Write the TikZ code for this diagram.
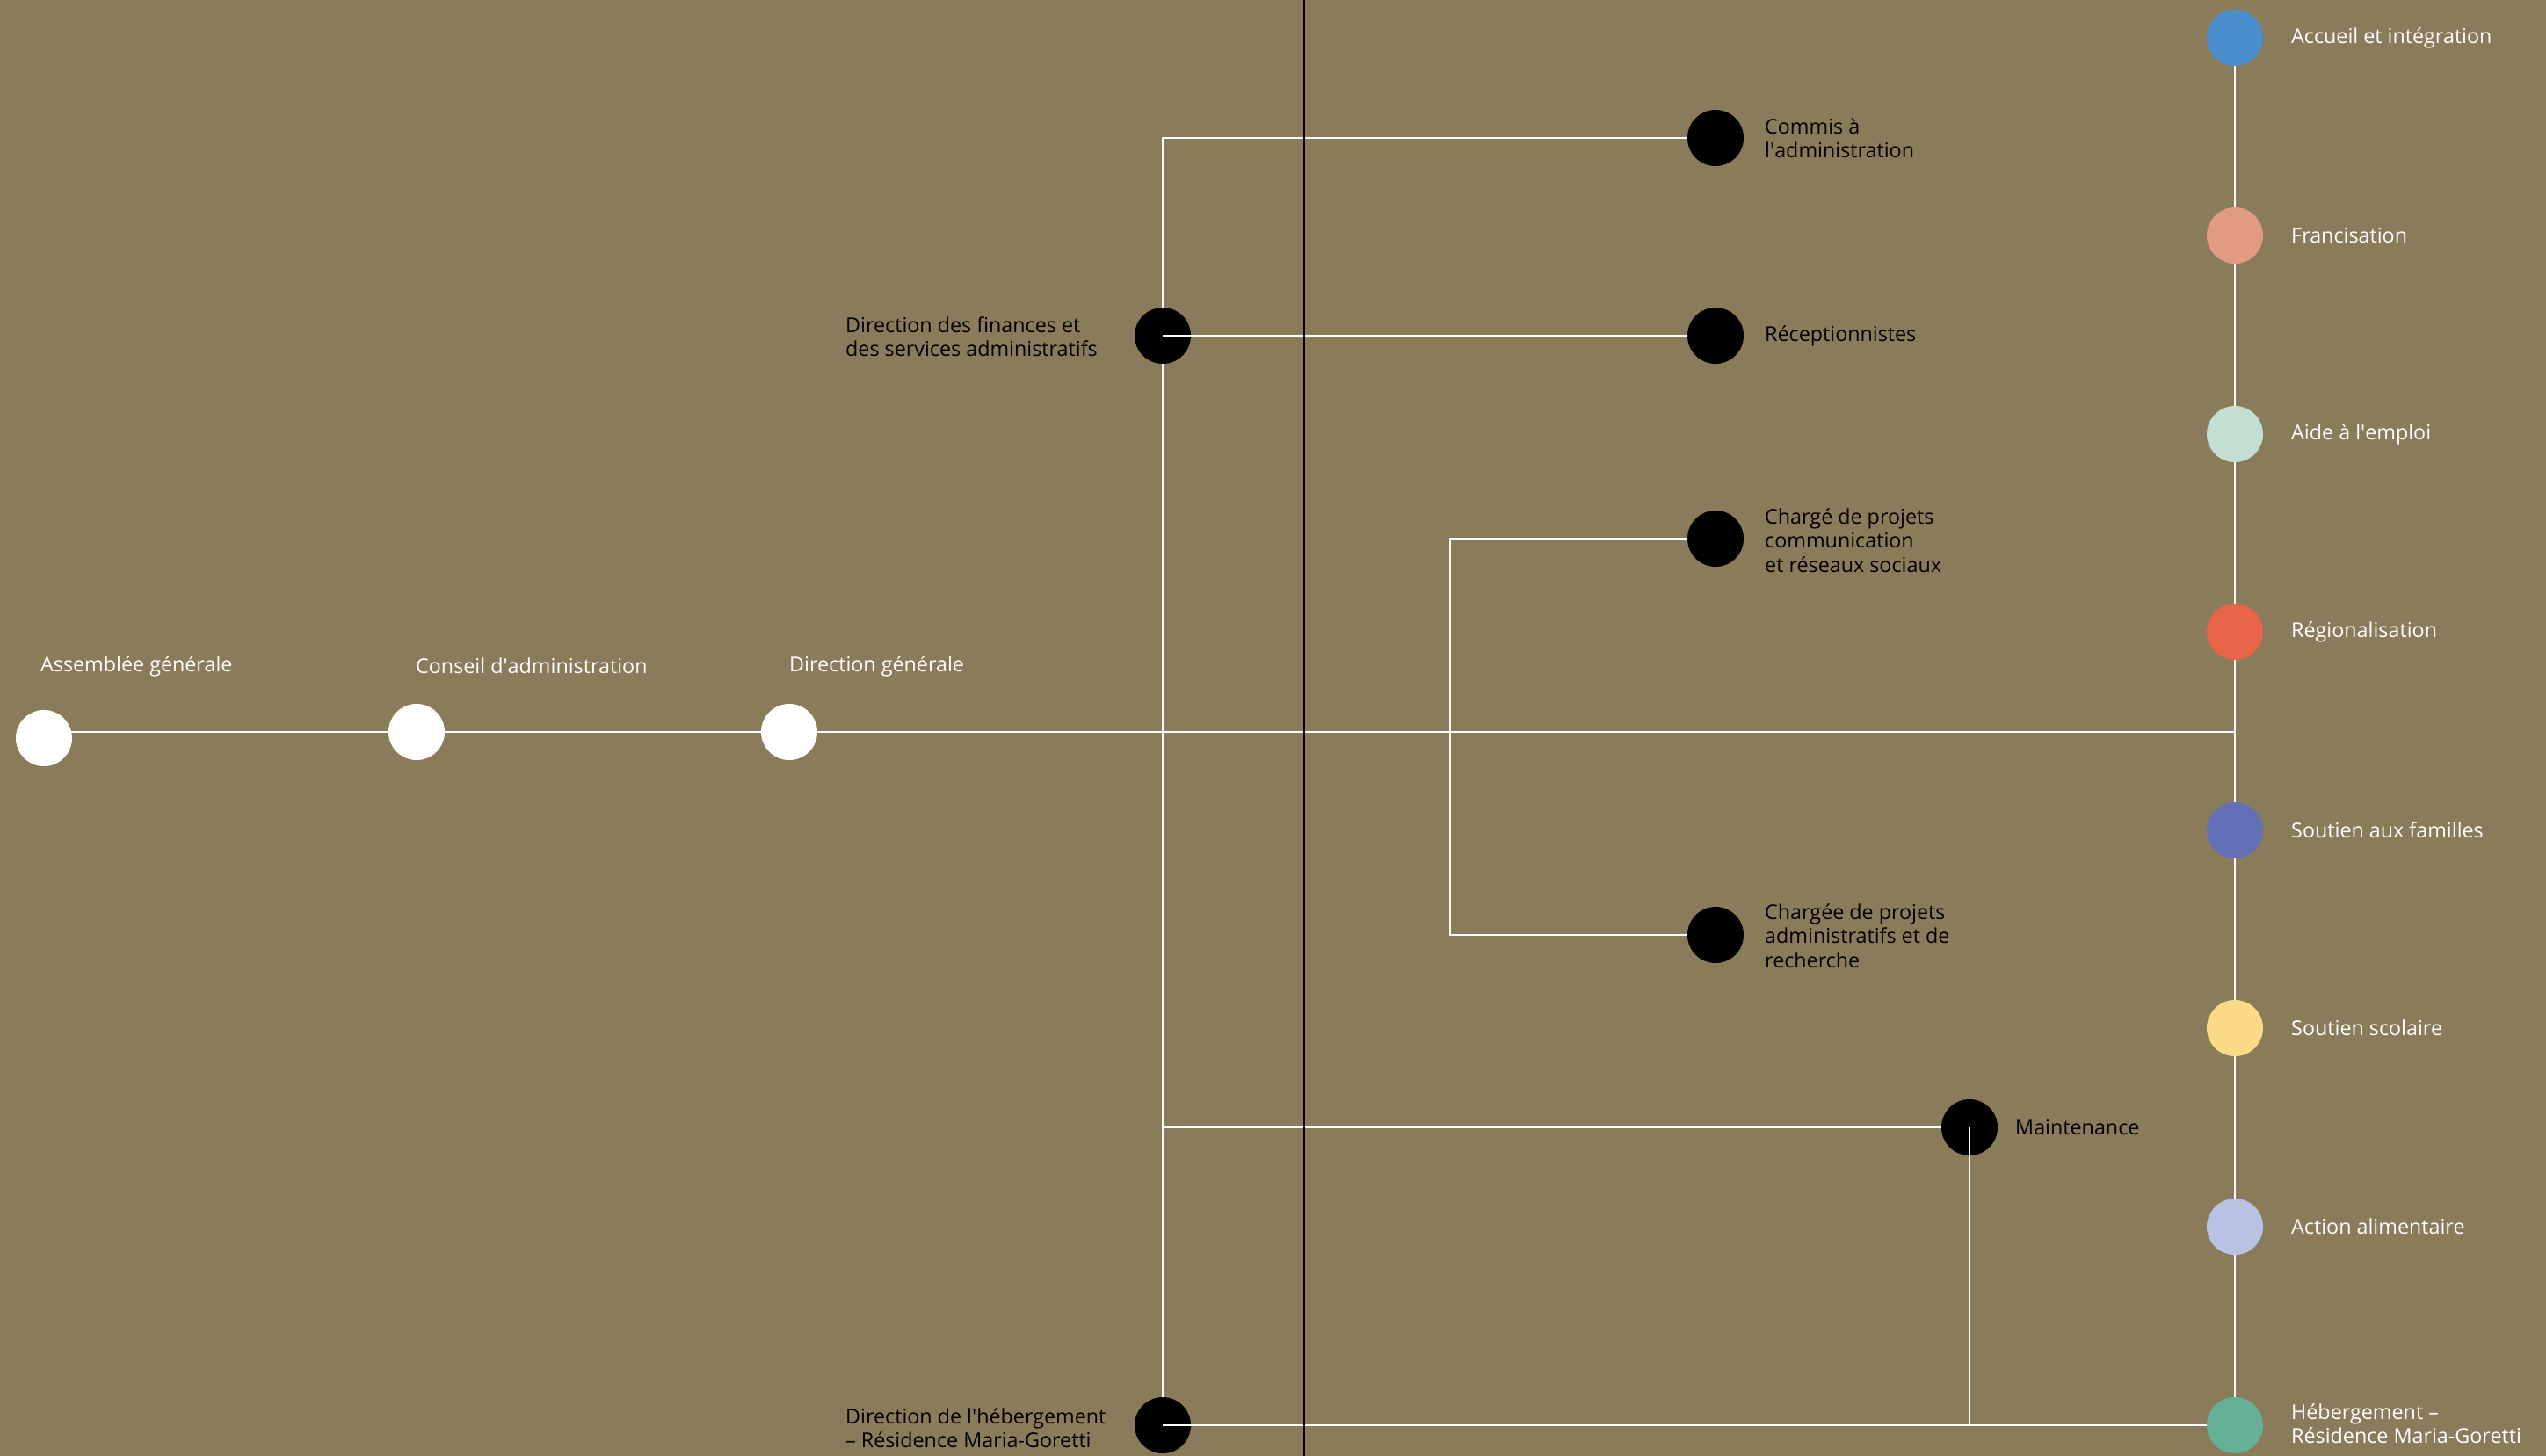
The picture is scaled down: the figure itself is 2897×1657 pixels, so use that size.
\documentclass[tikz,border=0pt]{standalone}
\usepackage{fontspec}
\setmainfont{Open Sans}
\pgfdeclarelayer{bg}
\pgfdeclarelayer{lines}
\pgfsetlayers{bg,lines,main}
\definecolor{bgc}{HTML}{8A7C5A}
\definecolor{cAcc}{HTML}{4A8FCB}
\definecolor{cFra}{HTML}{E29B82}
\definecolor{cAide}{HTML}{C3DFD2}
\definecolor{cReg}{HTML}{E8654A}
\definecolor{cFam}{HTML}{6470B5}
\definecolor{cSco}{HTML}{FDDA86}
\definecolor{cAli}{HTML}{B8C2E3}
\definecolor{cHeb}{HTML}{67B098}
\newcommand{\apos}{\textquotesingle}
\begin{document}
\begin{tikzpicture}[x=1pt,y=-1pt,
  dot/.style={circle,minimum size=64pt,inner sep=0pt,draw=none},
  wdot/.style={dot,fill=white},
  kdot/.style={dot,fill=black},
  wlbl/.style={anchor=west,inner sep=0pt,text=white,align=left,font=\fontsize{23.3}{27.5}\selectfont},
  klbl/.style={wlbl,text=black},
  link/.style={draw=white,line width=2pt},
  rule/.style={draw=black,line width=1.2pt}]
\begin{pgfonlayer}{bg}
\fill[bgc] (0,0) rectangle (2897,1657);
\end{pgfonlayer}
\useasboundingbox (0,0) rectangle (2897,1657);

% white chain
\node[wdot] (ag) at (50,840) {};
\node[wdot] (ca) at (474,833) {};
\node[wdot] (dg) at (898,833) {};
\node[wlbl] (agl) at (46,758) {Assemblée générale};
\node[wlbl] (cal) at (473,758) {Conseil d\apos administration};
\node[wlbl] (dgl) at (898,758) {Direction générale};

% right column
\node[dot,fill=cAcc] (r1) at (2543,43) {};
\node[dot,fill=cFra] (r2) at (2543,268) {};
\node[dot,fill=cAide] (r3) at (2543,494) {};
\node[dot,fill=cReg] (r4) at (2543,719) {};
\node[dot,fill=cFam] (r5) at (2543,945) {};
\node[dot,fill=cSco] (r6) at (2543,1170) {};
\node[dot,fill=cAli] (r7) at (2543,1396) {};
\node[dot,fill=cHeb] (r8) at (2543,1622) {};
\node[wlbl] (r1l) at (2607,43) {Accueil et intégration};
\node[wlbl] (r2l) at (2607,268) {Francisation};
\node[wlbl] (r3l) at (2607,494) {Aide à l\apos emploi};
\node[wlbl] (r4l) at (2607,719) {Régionalisation};
\node[wlbl] (r5l) at (2607,945) {Soutien aux familles};
\node[wlbl] (r6l) at (2607,1170) {Soutien scolaire};
\node[wlbl] (r7l) at (2607,1396) {Action alimentaire};
\node[wlbl] (r8l) at (2607,1620) {Hébergement –\\Résidence Maria-Goretti};

% black nodes
\node[kdot] (dfin) at (1323,382) {};
\node[kdot] (dheb) at (1323,1622) {};
\node[kdot] (com) at (1952,157) {};
\node[kdot] (rec) at (1952,382) {};
\node[kdot] (cpc) at (1952,613) {};
\node[kdot] (cpa) at (1952,1064) {};
\node[kdot] (mnt) at (2241,1283) {};
\node[klbl] (dfinl) at (962,383) {Direction des finances et\\des services administratifs};
\node[klbl] (dhebl) at (962,1625) {Direction de l\apos hébergement\\– Résidence Maria-Goretti};
\node[klbl] (coml) at (2008,157) {Commis à\\l\apos administration};
\node[klbl] (recl) at (2008,382) {Réceptionnistes};
\node[klbl] (cpcl) at (2008,615) {Chargé de projets\\communication\\et réseaux sociaux};
\node[klbl] (cpal) at (2008,1065) {Chargée de projets\\administratifs et de\\recherche};
\node[klbl] (mntl) at (2293,1283) {Maintenance};

\coordinate (hub) at (2543,833);
\coordinate (brk) at (1650,833);
\coordinate (ruletop) at (1484,0);
\coordinate (rulebot) at (1484,1657);

\begin{pgfonlayer}{lines}
\draw[link] (ag.center |- hub) -- (hub);
\draw[link] (r1) -- (r8);
\draw[link] (com) -- (com -| dfin) -- (dheb);
\draw[link] (mnt) -- (mnt -| dfin);
\draw[link] (cpc) -- (cpc -| brk) -- (cpa -| brk) -- (cpa);
\end{pgfonlayer}

\draw[link] (dfin.center) -- (rec);
\draw[link] (mnt.center) -- (mnt.center |- dheb);
\draw[link] (dheb.center) -- (r8);
\draw[rule] (ruletop) -- (rulebot);
\end{tikzpicture}
\end{document}
